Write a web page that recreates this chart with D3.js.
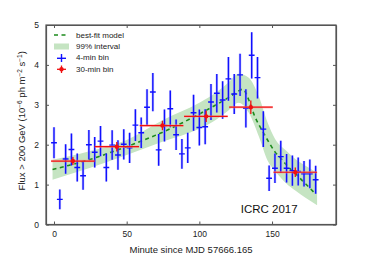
<!DOCTYPE html>
<html>
<head>
<meta charset="utf-8">
<script src="https://cdn.jsdelivr.net/npm/d3@7"></script>
<style>
  body { margin: 0; background: #fff; }
  svg { display: block; font-family: 'Liberation Sans', Arial, sans-serif; }
</style>
</head>
<body>
<div id="chart"></div>
<script>
// 4-min bins: time (min), flux, error
const binTime = [0, 4, 8, 12, 16, 20, 24, 28, 32, 36, 40, 44, 48, 52, 56, 60, 64, 68, 72, 76, 80, 84, 88, 92,
  96, 100, 104, 108, 112, 116, 120, 124, 128, 132, 136, 140, 144, 148, 152, 156, 160, 164, 168, 172, 176, 180]
const binFlux = [2.05, 0.63, 1.64, 1.88, 1.43, 1.22, 2.00, 1.81, 2.09, 1.43, 1.99, 1.74, 2.01, 1.92, 2.49, 2.30,
  2.94, 3.32, 1.87, 2.48, 2.90, 2.25, 1.77, 1.92, 2.80, 2.43, 2.45, 3.07, 3.29, 3.12, 3.65, 3.27, 3.75, 2.91,
  4.24, 3.68, 2.39, 1.16, 1.41, 1.70, 1.41, 1.35, 1.33, 1.27, 1.27, 1.12]
const binErr = [0.39, 0.25, 0.37, 0.40, 0.35, 0.35, 0.37, 0.38, 0.38, 0.35, 0.37, 0.37, 0.38, 0.38, 0.40, 0.38,
  0.45, 0.48, 0.40, 0.40, 0.46, 0.38, 0.37, 0.38, 0.45, 0.45, 0.44, 0.45, 0.48, 0.47, 0.55, 0.50, 0.53, 0.48,
  0.58, 0.52, 0.45, 0.32, 0.37, 0.40, 0.36, 0.38, 0.35, 0.32, 0.36, 0.35]

// 30-min bins
const bigStart = [-2, 28, 59, 89.5, 120.5, 151]
const bigEnd = [28, 58.5, 89, 119.5, 150.5, 181]
const bigTime = [13, 43.2, 74.6, 104.7, 135.4, 166]
const bigFlux = [1.59, 1.95, 2.48, 2.71, 2.94, 1.31]
const bigErr = [0.10, 0.12, 0.12, 0.14, 0.17, 0.12]

// best-fit model
const modelTime = [-1, 10, 20, 30, 40, 50, 60, 70, 80, 90, 100, 111, 120, 125, 130, 134, 138, 143, 148, 152,
  157, 161, 166, 170, 175, 180]
const modelFlux = [1.38, 1.48, 1.58, 1.69, 1.82, 1.95, 2.09, 2.24, 2.40, 2.58, 2.77, 2.99, 3.18, 3.30, 3.39,
  3.12, 2.72, 2.37, 2.05, 1.82, 1.62, 1.45, 1.28, 1.13, 0.95, 0.76]

// 99% interval
const bandTime = [-1, 25, 50, 75, 100, 112, 120, 127, 134, 141, 147, 152, 160, 166, 173, 181]
const bandHigh = [1.62, 1.84, 2.12, 2.62, 3.05, 3.32, 3.56, 3.78, 3.68, 3.20, 2.55, 2.15, 1.84, 1.64, 1.47, 1.30]
const bandLow = [1.12, 1.42, 1.74, 2.08, 2.40, 2.64, 2.86, 3.05, 2.80, 2.20, 1.60, 1.35, 1.02, 0.85, 0.67, 0.48]

const xTicks = [0, 50, 100, 150]
const yTicks = [0, 1, 2, 3, 4, 5]

const margin = { top: 25, left: 46, right: 38, bottom: 32.5 }
const width = 374 - margin.left - margin.right
const height = 257 - margin.top - margin.bottom

const svg = d3.select('#chart')
  .append('svg')
  .attr('width', 374)
  .attr('height', 257)

const g = svg.append('g')
  .attr('transform', 'translate(' + margin.left + ',' + margin.top + ')')

const x = d3.scaleLinear().domain([-5.5, 194]).range([0, width])
const y = d3.scaleLinear().domain([0, 5]).range([height, 0])

g.append('clipPath').attr('id', 'clip')
  .append('rect').attr('width', width).attr('height', height)

const plot = g.append('g').attr('clip-path', 'url(#clip)')

// band
const band = bandTime.map((t, i) => ({ t: t, lo: bandLow[i], hi: bandHigh[i] }))
plot.append('path')
  .datum(band)
  .attr('fill', '#c5e4c2')
  .attr('d', d3.area().curve(d3.curveMonotoneX)
    .x(d => x(d.t)).y0(d => y(d.lo)).y1(d => y(d.hi)))

// model
const model = modelTime.map((t, i) => ({ t: t, f: modelFlux[i] }))
plot.append('path')
  .datum(model)
  .attr('fill', 'none')
  .attr('stroke', '#1c8a1c')
  .attr('stroke-width', 1.6)
  .attr('stroke-dasharray', '4,3.5')
  .attr('d', d3.line().curve(d3.curveMonotoneX).x(d => x(d.t)).y(d => y(d.f)))

// 4-min bins
const small = binTime.map((t, i) => ({ t: t, f: binFlux[i], e: binErr[i] }))
const blue = plot.append('g')
small.forEach(d => {
  // halo
  blue.append('line')
    .attr('x1', x(d.t)).attr('x2', x(d.t))
    .attr('y1', y(d.f - d.e)).attr('y2', y(d.f + d.e))
    .attr('stroke', '#9999ff').attr('stroke-opacity', 0.5).attr('stroke-width', 2.6)
  blue.append('line')
    .attr('x1', x(d.t)).attr('x2', x(d.t))
    .attr('y1', y(d.f - d.e)).attr('y2', y(d.f + d.e))
    .attr('stroke', '#1010ff').attr('stroke-width', 1.4)
  blue.append('line')
    .attr('x1', x(d.t - 2)).attr('x2', x(d.t + 2))
    .attr('y1', y(d.f)).attr('y2', y(d.f))
    .attr('stroke', '#1010ff').attr('stroke-width', 1.4)
})

// 30-min bins
const big = bigTime.map((t, i) => ({ t: t, s: bigStart[i], e0: bigEnd[i], f: bigFlux[i], e: bigErr[i] }))
const red = plot.append('g')
big.forEach(d => {
  red.append('line')
    .attr('x1', x(d.s)).attr('x2', x(d.e0))
    .attr('y1', y(d.f)).attr('y2', y(d.f))
    .attr('stroke', '#ff9090').attr('stroke-opacity', 0.5).attr('stroke-width', 2.4)
  red.append('line')
    .attr('x1', x(d.s)).attr('x2', x(d.e0))
    .attr('y1', y(d.f)).attr('y2', y(d.f))
    .attr('stroke', '#f01010').attr('stroke-width', 1.2)
  red.append('line')
    .attr('x1', x(d.t)).attr('x2', x(d.t))
    .attr('y1', y(d.f - d.e)).attr('y2', y(d.f + d.e))
    .attr('stroke', '#f01010').attr('stroke-width', 1.3)
  red.append('circle')
    .attr('cx', x(d.t)).attr('cy', y(d.f)).attr('r', 2.2)
    .attr('fill', '#f01010')
})

// axes with ticks inside, mirrored
const frame = '#555'
g.append('g')
  .attr('transform', 'translate(0,' + height + ')')
  .call(d3.axisBottom(x).tickValues(xTicks).tickSizeInner(-3).tickSizeOuter(0).tickPadding(6))
g.append('g')
  .call(d3.axisTop(x).tickValues(xTicks).tickSizeInner(-3).tickSizeOuter(0).tickFormat(''))
g.append('g')
  .call(d3.axisLeft(y).tickValues(yTicks).tickFormat(d3.format('d'))
    .tickSizeInner(-3).tickSizeOuter(0).tickPadding(7))
g.append('g')
  .attr('transform', 'translate(' + width + ',0)')
  .call(d3.axisRight(y).tickValues(yTicks).tickSizeInner(-3).tickSizeOuter(0).tickFormat(''))

g.selectAll('.domain').attr('stroke', frame).attr('stroke-width', 1.2)
g.selectAll('.tick line').attr('stroke', frame)
g.selectAll('.tick text').attr('fill', '#222').style('font-size', '8.5px')

g.append('rect')
  .attr('width', width).attr('height', height)
  .attr('fill', 'none').attr('stroke', frame).attr('stroke-width', 1.2)

// axis titles
svg.append('text')
  .attr('x', margin.left + width / 2)
  .attr('y', 253)
  .attr('text-anchor', 'middle')
  .style('font-size', '9.5px')
  .attr('fill', '#222')
  .text('Minute since MJD 57666.165')

const ylab = svg.append('text')
  .attr('transform', 'translate(25,' + (margin.top + height / 2 - 4) + ') rotate(-90)')
  .attr('text-anchor', 'middle')
  .style('font-size', '9.5px')
  .attr('fill', '#222')
ylab.append('tspan').text('Flux > 200 GeV (10')
ylab.append('tspan').attr('dy', -3.5).style('font-size', '6.5px').text('−6')
ylab.append('tspan').attr('dy', 3.5).text(' ph m')
ylab.append('tspan').attr('dy', -3.5).style('font-size', '6.5px').text('−2')
ylab.append('tspan').attr('dy', 3.5).text(' s')
ylab.append('tspan').attr('dy', -3.5).style('font-size', '6.5px').text('−1')
ylab.append('tspan').attr('dy', 3.5).text(')')

// watermark
g.append('text')
  .attr('x', x(148)).attr('y', 188)
  .attr('text-anchor', 'middle')
  .style('font-size', '11.5px')
  .attr('fill', '#111')
  .text('ICRC 2017')

// legend
const leg = g.append('g').attr('transform', 'translate(8,0)')
leg.append('line')
  .attr('x1', 0).attr('x2', 15).attr('y1', 10).attr('y2', 10)
  .attr('stroke', '#1c8a1c').attr('stroke-width', 1.6).attr('stroke-dasharray', '4,3.5')
leg.append('rect')
  .attr('x', 0).attr('y', 18.5).attr('width', 15).attr('height', 6)
  .attr('fill', '#c5e4c2')
leg.append('line').attr('x1', 7.5).attr('x2', 7.5).attr('y1', 29).attr('y2', 37)
  .attr('stroke', '#1010ff').attr('stroke-width', 1.4)
leg.append('line').attr('x1', 3).attr('x2', 12).attr('y1', 33.3).attr('y2', 33.3)
  .attr('stroke', '#1010ff').attr('stroke-width', 1.4)
leg.append('line').attr('x1', 7.5).attr('x2', 7.5).attr('y1', 40.5).attr('y2', 48)
  .attr('stroke', '#f01010').attr('stroke-width', 1.3)
leg.append('line').attr('x1', 3).attr('x2', 12).attr('y1', 44.3).attr('y2', 44.3)
  .attr('stroke', '#f01010').attr('stroke-width', 1.3)
leg.append('circle').attr('cx', 7.5).attr('cy', 44.3).attr('r', 2.2).attr('fill', '#f01010')

const legText = ['best-fit model', '99% interval', '4-min bin', '30-min bin']
leg.selectAll('text.lab')
  .data(legText)
  .enter()
  .append('text')
  .attr('class', 'lab')
  .attr('x', 22)
  .attr('y', (d, i) => 13 + i * 11.2)
  .style('font-size', '8px')
  .attr('fill', '#222')
  .text(d => d)
</script>
</body>
</html>
